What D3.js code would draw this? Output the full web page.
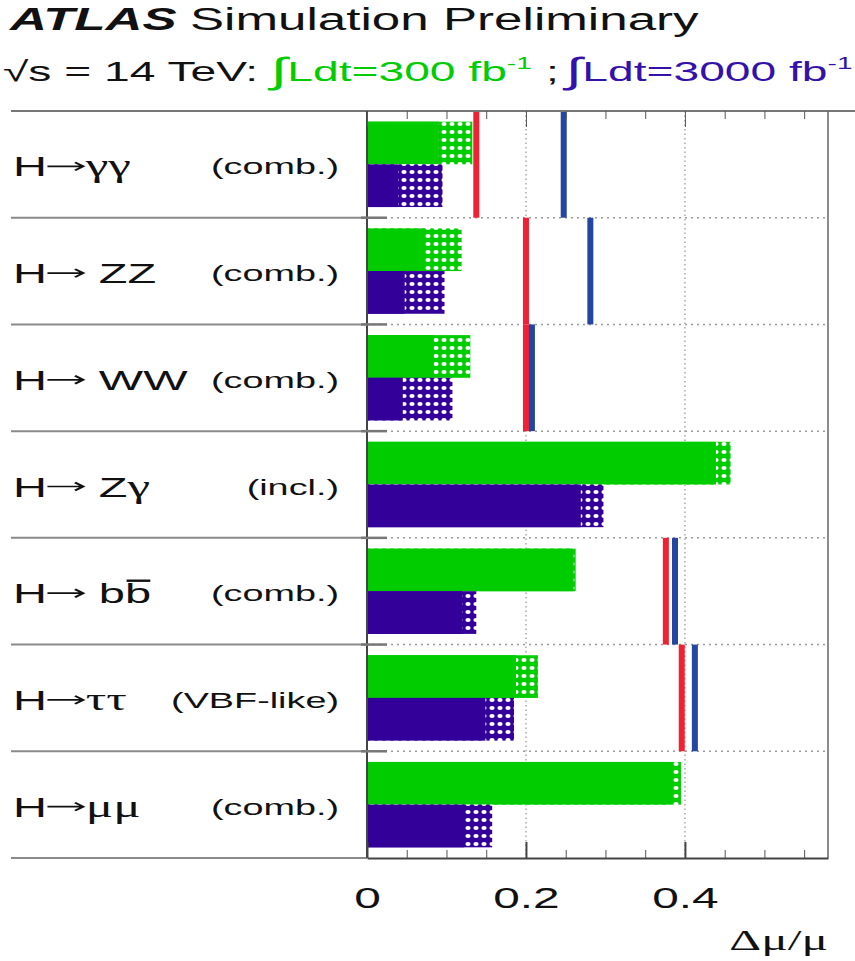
<!DOCTYPE html>
<html>
<head>
<meta charset="utf-8">
<script src="https://cdn.jsdelivr.net/npm/d3@7"></script>
<style>
body { margin: 0; background: #fff; }
svg { display: block; }
text { font-family: "Liberation Sans", Arial, Helvetica, sans-serif; fill: #111; }
</style>
</head>
<body>
<svg id="chart" width="855" height="961"></svg>
<script>
// channels, top to bottom
var channels = ["H→γγ", "H→ ZZ", "H→ WW", "H→ Zγ", "H→ bb", "H→ττ", "H→μμ"]
var modes = ["(comb.)", "(comb.)", "(comb.)", "(incl.)", "(comb.)", "(VBF-like)", "(comb.)"]

// 300 fb-1 (green): solid part and full extent incl. theory unc. (dotted part)
var green300 = [0.09, 0.0725, 0.084, 0.439, 0.26, 0.1875, 0.3825]
var green300Full = [0.1325, 0.119, 0.13, 0.4575, 0.2625, 0.215, 0.395]
// 3000 fb-1 (purple)
var purple3000 = [0.039, 0.0475, 0.045, 0.269, 0.12, 0.149, 0.1225]
var purple3000Full = [0.095, 0.0975, 0.1075, 0.2975, 0.1375, 0.185, 0.1575]
// vertical markers (null = none)
var redMark = [0.1375, 0.2, 0.2, null, 0.376, 0.396, null]
var blueMark = [0.2475, 0.281, 0.2075, null, 0.3875, 0.4125, null]

var xTicks = [0, 0.2, 0.4]
var xMinor = [0.05, 0.1, 0.15, 0.25, 0.3, 0.35, 0.45, 0.5, 0.55]

var svg = d3.select("#chart")
var margin = ({top: 111, right: 25, bottom: 103, left: 367})
var width = 855, height = 961
var stretch = 1.65  // picture is stretched sideways, text too

var x = d3.scaleLinear()
    .domain([0, 0.58])
    .range([margin.left, width - margin.right - 2])

var y = d3.scaleBand()
    .domain(d3.range(channels.length))
    .range([margin.top, height - margin.bottom])
    .padding(0)

var green = "#00cc00", purple = "#330099"
var serif = '"Liberation Serif", "DejaVu Serif", serif'

function txt(g, px, py, str, size, anchor) {
    return g.append("text")
        .attr("transform", `translate(${px},${py}) scale(${stretch},1)`)
        .attr("text-anchor", anchor || "start")
        .style("font-size", size + "px")
        .text(str)
}

// dotted fill patterns
var defs = svg.append("defs")
function dotPattern(id, color) {
    var p = defs.append("pattern")
        .attr("id", id)
        .attr("patternUnits", "userSpaceOnUse")
        .attr("width", 8).attr("height", 8)
    p.append("rect").attr("width", 8).attr("height", 8).attr("fill", color)
    p.append("ellipse").attr("cx", 4).attr("cy", 4).attr("rx", 2.6).attr("ry", 2).attr("fill", "#fff")
}
dotPattern("dotGreen", green)
dotPattern("dotPurple", purple)

// header
txt(svg, 10, 30, "ATLAS", 31).style("font-weight", "bold").style("font-style", "italic")
txt(svg, 190, 30, "Simulation Preliminary", 31)

txt(svg, 3, 81, "√s = 14 TeV:", 28)
function lumiText(px, lumi, color) {
    var t = txt(svg, px, 81, "", 28).style("fill", color)
    t.append("tspan").style("font-size", "36px").attr("dy", 2).text("∫")
    t.append("tspan").attr("dy", -2).text("Ldt=" + lumi + " fb")
    t.append("tspan").style("font-size", "17px").attr("dy", -12).text("-1")
}
lumiText(271, "300", green)
txt(svg, 546, 81, ";", 28)
lumiText(566, "3000", "#3311aa")

// row separators, left of the frame solid
var bounds = d3.range(channels.length + 1).map(i => margin.top + i * y.step())

svg.append("g")
    .attr("stroke", "#8a8a8a")
    .attr("stroke-width", 2)
  .selectAll("line")
  .data(bounds)
  .join("line")
    .attr("x1", 11)
    .attr("x2", margin.left)
    .attr("y1", d => d)
    .attr("y2", d => d)

// inside the frame dotted
svg.append("g")
    .attr("stroke", "#9a9a9a")
    .attr("stroke-width", 1.5)
    .attr("stroke-dasharray", "2,4")
  .selectAll("line")
  .data(bounds.slice(1, -1))
  .join("line")
    .attr("x1", margin.left)
    .attr("x2", x.range()[1])
    .attr("y1", d => d)
    .attr("y2", d => d)

// vertical grid
svg.append("g")
    .attr("stroke", "#9a9a9a")
    .attr("stroke-width", 1.3)
    .attr("stroke-dasharray", "1.5,3")
  .selectAll("line")
  .data(xTicks.slice(1))
  .join("line")
    .attr("x1", d => x(d))
    .attr("x2", d => x(d))
    .attr("y1", margin.top)
    .attr("y2", height - margin.bottom)

// bars
var rows = d3.range(channels.length)
var bh = y.bandwidth() * 0.4

svg.append("g").selectAll("rect")
  .data(rows)
  .join("rect")
    .attr("x", x(0))
    .attr("y", i => y(i) + y.bandwidth() * 0.1)
    .attr("width", i => x(green300Full[i]) - x(0))
    .attr("height", bh)
    .attr("fill", "url(#dotGreen)")

svg.append("g").selectAll("rect")
  .data(rows)
  .join("rect")
    .attr("x", x(0))
    .attr("y", i => y(i) + y.bandwidth() * 0.1)
    .attr("width", i => x(green300[i]) - x(0))
    .attr("height", bh)
    .attr("fill", green)

svg.append("g").selectAll("rect")
  .data(rows)
  .join("rect")
    .attr("x", x(0))
    .attr("y", i => y(i) + y.bandwidth() * 0.5)
    .attr("width", i => x(purple3000Full[i]) - x(0))
    .attr("height", bh)
    .attr("fill", "url(#dotPurple)")

svg.append("g").selectAll("rect")
  .data(rows)
  .join("rect")
    .attr("x", x(0))
    .attr("y", i => y(i) + y.bandwidth() * 0.5)
    .attr("width", i => x(purple3000[i]) - x(0))
    .attr("height", bh)
    .attr("fill", purple)

// red / blue markers
function marks(vals, color) {
    svg.append("g").selectAll("rect")
      .data(rows.filter(i => vals[i] != null))
      .join("rect")
        .attr("x", i => x(vals[i]) - 3)
        .attr("y", i => y(i))
        .attr("width", 6)
        .attr("height", y.bandwidth())
        .attr("fill", color)
}
marks(redMark, "#ee2233")
marks(blueMark, "#2546a0")

// frame
svg.append("line")
    .attr("x1", 11).attr("x2", width)
    .attr("y1", margin.top).attr("y2", margin.top)
    .attr("stroke", "#777").attr("stroke-width", 2)
svg.append("line")
    .attr("x1", x.range()[1]).attr("x2", x.range()[1])
    .attr("y1", margin.top).attr("y2", height - margin.bottom)
    .attr("stroke", "#666").attr("stroke-width", 1.5)
svg.append("line")
    .attr("x1", x(0)).attr("x2", x(0))
    .attr("y1", margin.top).attr("y2", height - margin.bottom)
    .attr("stroke", "#444").attr("stroke-width", 2)

// ticks on the left axis at row boundaries
svg.append("g")
    .attr("stroke", "#777")
    .attr("stroke-width", 2.5)
  .selectAll("line")
  .data(bounds.slice(1, -1))
  .join("line")
    .attr("x1", x(0) - 6)
    .attr("x2", x(0) + 20)
    .attr("y1", d => d)
    .attr("y2", d => d)

// bottom axis
var xAxisMinor = g => g
    .attr("transform", `translate(0,${height - margin.bottom})`)
    .call(d3.axisBottom(x).tickValues(xMinor).tickSizeInner(-8).tickSizeOuter(0).tickFormat(""))
    .call(g => g.select(".domain").remove())

var xAxis = g => g
    .attr("transform", `translate(0,${height - margin.bottom})`)
    .call(d3.axisBottom(x).tickValues(xTicks).tickSizeInner(-16).tickSizeOuter(0).tickPadding(29).tickFormat(d3.format("")))
    .call(g => g.selectAll(".tick line").attr("stroke-width", 2))
    .call(g => g.select(".domain").attr("stroke-width", 2))
    .call(g => g.selectAll(".tick text")
        .attr("transform", `scale(${stretch},1)`)
        .style("font-size", "29px")
        .style("font-family", '"Liberation Sans", Arial, sans-serif')
        .attr("fill", "#111"))

// top axis ticks (mirrored)
var xTop = g => g
    .attr("transform", `translate(0,${margin.top})`)
    .call(d3.axisTop(x).tickValues(xMinor).tickSizeInner(-8).tickSizeOuter(0).tickFormat(""))
    .call(g => g.append("g").call(d3.axisTop(x).tickValues(xTicks).tickSizeInner(-16).tickSizeOuter(0).tickFormat("")))
    .call(g => g.selectAll(".domain").remove())

svg.append("g").attr("color", "#555").call(xAxisMinor)
svg.append("g").attr("color", "#444").call(xAxis)
svg.append("g").attr("color", "#555").call(xTop)

// axis title
txt(svg, 828, 950, "Δμ/μ", 30, "end").style("font-family", serif)

// row labels: "H", a long thin arrow (drawn), then the final state (greek in serif)
var arrowLen = 22
rows.forEach(i => {
    var cy = y(i) + y.bandwidth() / 2
    var parts = channels[i].split("→")
    var g = svg.append("g").attr("transform", `translate(13,${cy + 12}) scale(${stretch},1)`)
    var t = g.append("text").style("font-size", "28.5px")
    t.append("tspan").text(parts[0])
    parts[1].split("").forEach((c, k) => {
        var greek = /[α-ω]/.test(c)
        t.append("tspan")
            .attr("dx", k == 0 ? arrowLen + 1.5 : null)
            .style("font-family", greek ? serif : null)
            .style("font-size", greek ? "31px" : null)
            .text(c)
    })
    var hw = t.node().getSubStringLength(0, parts[0].length)
    var a0 = hw + 0.3, a1 = hw + arrowLen
    g.append("path")
        .attr("d", `M${a0},-10H${a1}M${a1 - 5},-14L${a1},-10L${a1 - 5},-6`)
        .attr("fill", "none")
        .attr("stroke", "#111")
        .attr("stroke-width", 1.7)
    if (channels[i].endsWith("bb")) {
        // bar on the second b
        var n = t.node().getNumberOfChars()
        var x1 = t.node().getStartPositionOfChar(n - 1).x
        var x2 = t.node().getEndPositionOfChar(n - 1).x
        g.append("line")
            .attr("x1", x1 + 1).attr("x2", x2 - 0.5)
            .attr("y1", -22.5).attr("y2", -22.5)
            .attr("stroke", "#111").attr("stroke-width", 2.4)
    }
    txt(svg, 339, cy + 10, modes[i], 22.9, "end")
})
</script>
</body>
</html>
